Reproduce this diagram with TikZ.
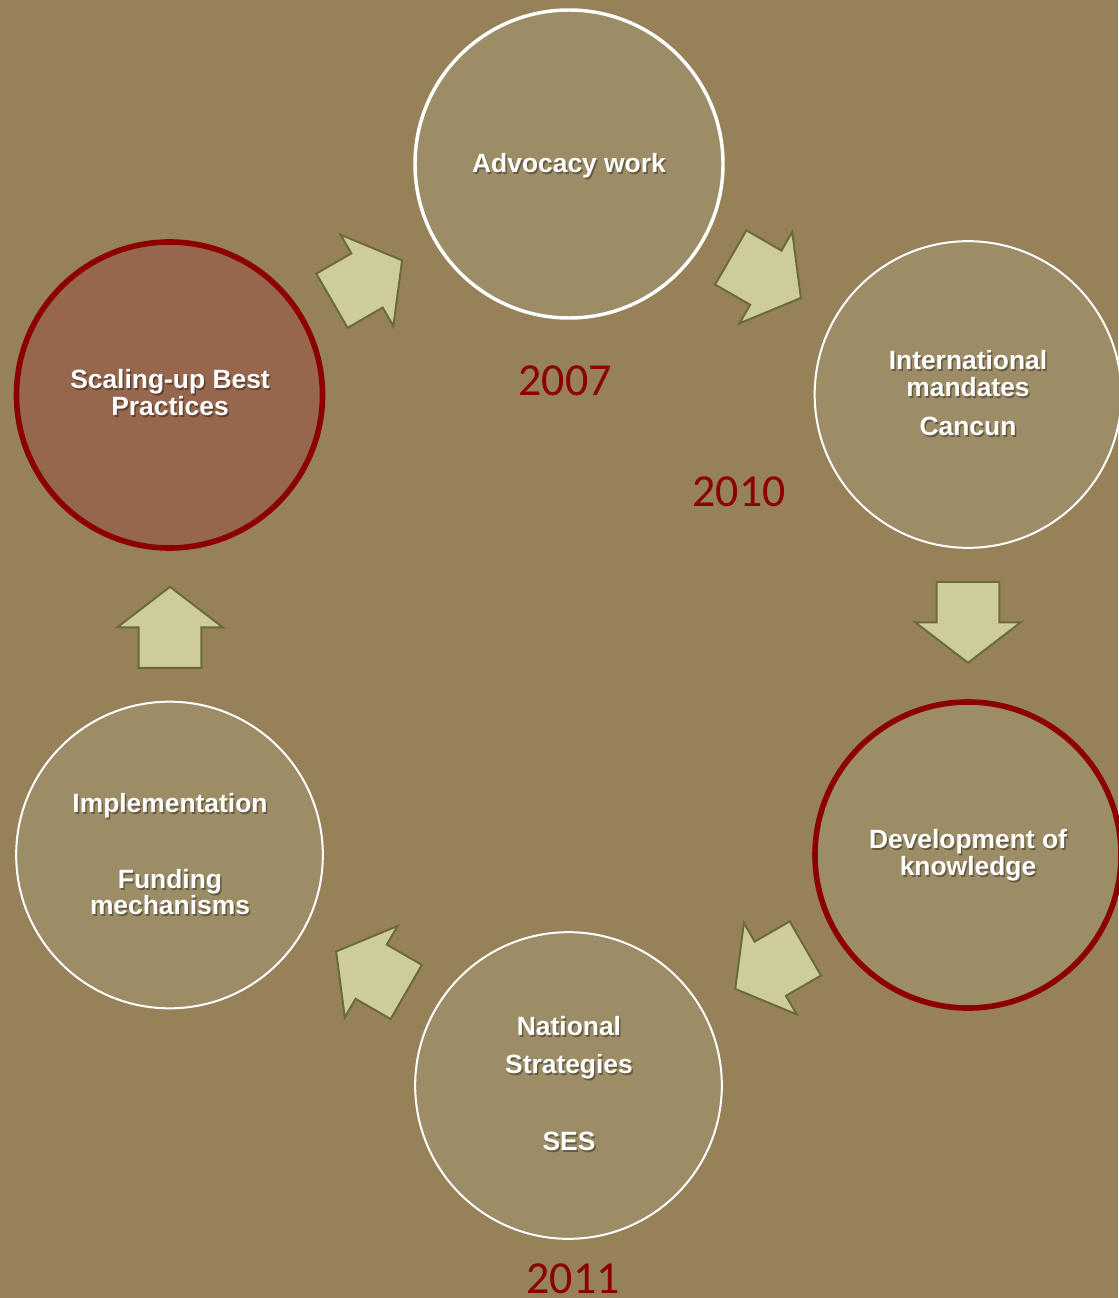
\documentclass[tikz,border=0pt]{standalone}
\usepackage{fontspec}
\setmainfont{Liberation Sans}
\newfontfamily\yearfont{Carlito}
\definecolor{bg}{RGB}{151,129,89}
\definecolor{circfill}{RGB}{157,141,102}
\definecolor{scalefill}{RGB}{150,102,77}
\definecolor{darkred}{RGB}{140,0,0}
\definecolor{arrfill}{RGB}{205,204,155}
\definecolor{arrline}{RGB}{107,107,58}
\tikzset{
  circbase/.style={circle, inner sep=0pt, outer sep=0pt, fill=circfill},
  whitering/.style={circbase, draw=white, line width=1.5pt, minimum size=230pt},
  thickwhite/.style={circbase, draw=white, line width=2.6pt, minimum size=231pt},
  redring/.style={circbase, draw=darkred, line width=4.2pt, minimum size=229.5pt},
  lbltext/.style={anchor=base, inner sep=0pt, text=white, font=\fontsize{19.8pt}{20.3pt}\selectfont\bfseries},
  lblshadow/.style={lbltext, text=black, text opacity=0.35},
  yearlbl/.style={anchor=base, inner sep=0pt, text=darkred, font=\yearfont\fontsize{34.4pt}{36pt}\selectfont},
  arrowshape/.style={fill=arrfill, draw=arrline, line width=1.5pt, line join=miter},
  blockarrow/.pic={
    \draw[arrowshape] (-40.5,31.3) -- (0,31.3) -- (0,52.8) -- (40.5,0) -- (0,-52.8) -- (0,-31.3) -- (-40.5,-31.3) -- cycle;
  }
}
\newcommand\shlabel[3]{%
  \node[lblshadow] at ([shift={(1.5,2)}]#2) {#3};
  \node[lbltext] (#1) at (#2) {#3};}
\begin{document}
\begin{tikzpicture}[x=0.75pt,y=-0.75pt]
\fill[bg] (0,0) rectangle (1118,1298);
\useasboundingbox (0,0) rectangle (1118,1298);

% circles
\node[thickwhite] (adv) at (569,164) {};
\node[whitering] (intl) at (968,394.5) {};
\node[redring] (dev) at (968,855) {};
\node[whitering] (nat) at (568.5,1085.5) {};
\node[whitering] (impl) at (169.5,855) {};
\node[redring, fill=scalefill] (scale) at (169.5,395) {};

% arrows
\pic[rotate=30] (a1) at (367,280.5) {blockarrow};
\pic[rotate=-30] (a2) at (765.8,277.7) {blockarrow};
\pic[rotate=-90] (a3) at (968,622.3) {blockarrow};
\pic[rotate=210] (a4) at (770.3,968.7) {blockarrow};
\pic[rotate=150] (a5) at (371.2,971.7) {blockarrow};
\pic[rotate=90] (a6) at (170,627.3) {blockarrow};

% labels
\shlabel{tadv}{569,173}{Advocacy work}
\shlabel{tint1}{968,369}{International}
\shlabel{tint2}{968,396}{mandates}
\shlabel{tint3}{968,435}{Cancun}
\shlabel{tdev1}{968,848}{Development of}
\shlabel{tdev2}{968,875}{knowledge}
\shlabel{tnat1}{569,1035}{National}
\shlabel{tnat2}{569,1073}{Strategies}
\shlabel{tnat3}{569,1150}{SES}
\shlabel{timp1}{170,812}{Implementation}
\shlabel{timp2}{170,888}{Funding}
\shlabel{timp3}{170,914}{mechanisms}
\shlabel{tsc1}{170,388}{Scaling-up Best}
\shlabel{tsc2}{170,415}{Practices}

% years
\node[yearlbl] (y2007) at (565,395) {2007};
\node[yearlbl] (y2010) at (739,506) {2010};
\node[yearlbl] (y2011) at (573,1293) {2011};
\end{tikzpicture}
\end{document}
